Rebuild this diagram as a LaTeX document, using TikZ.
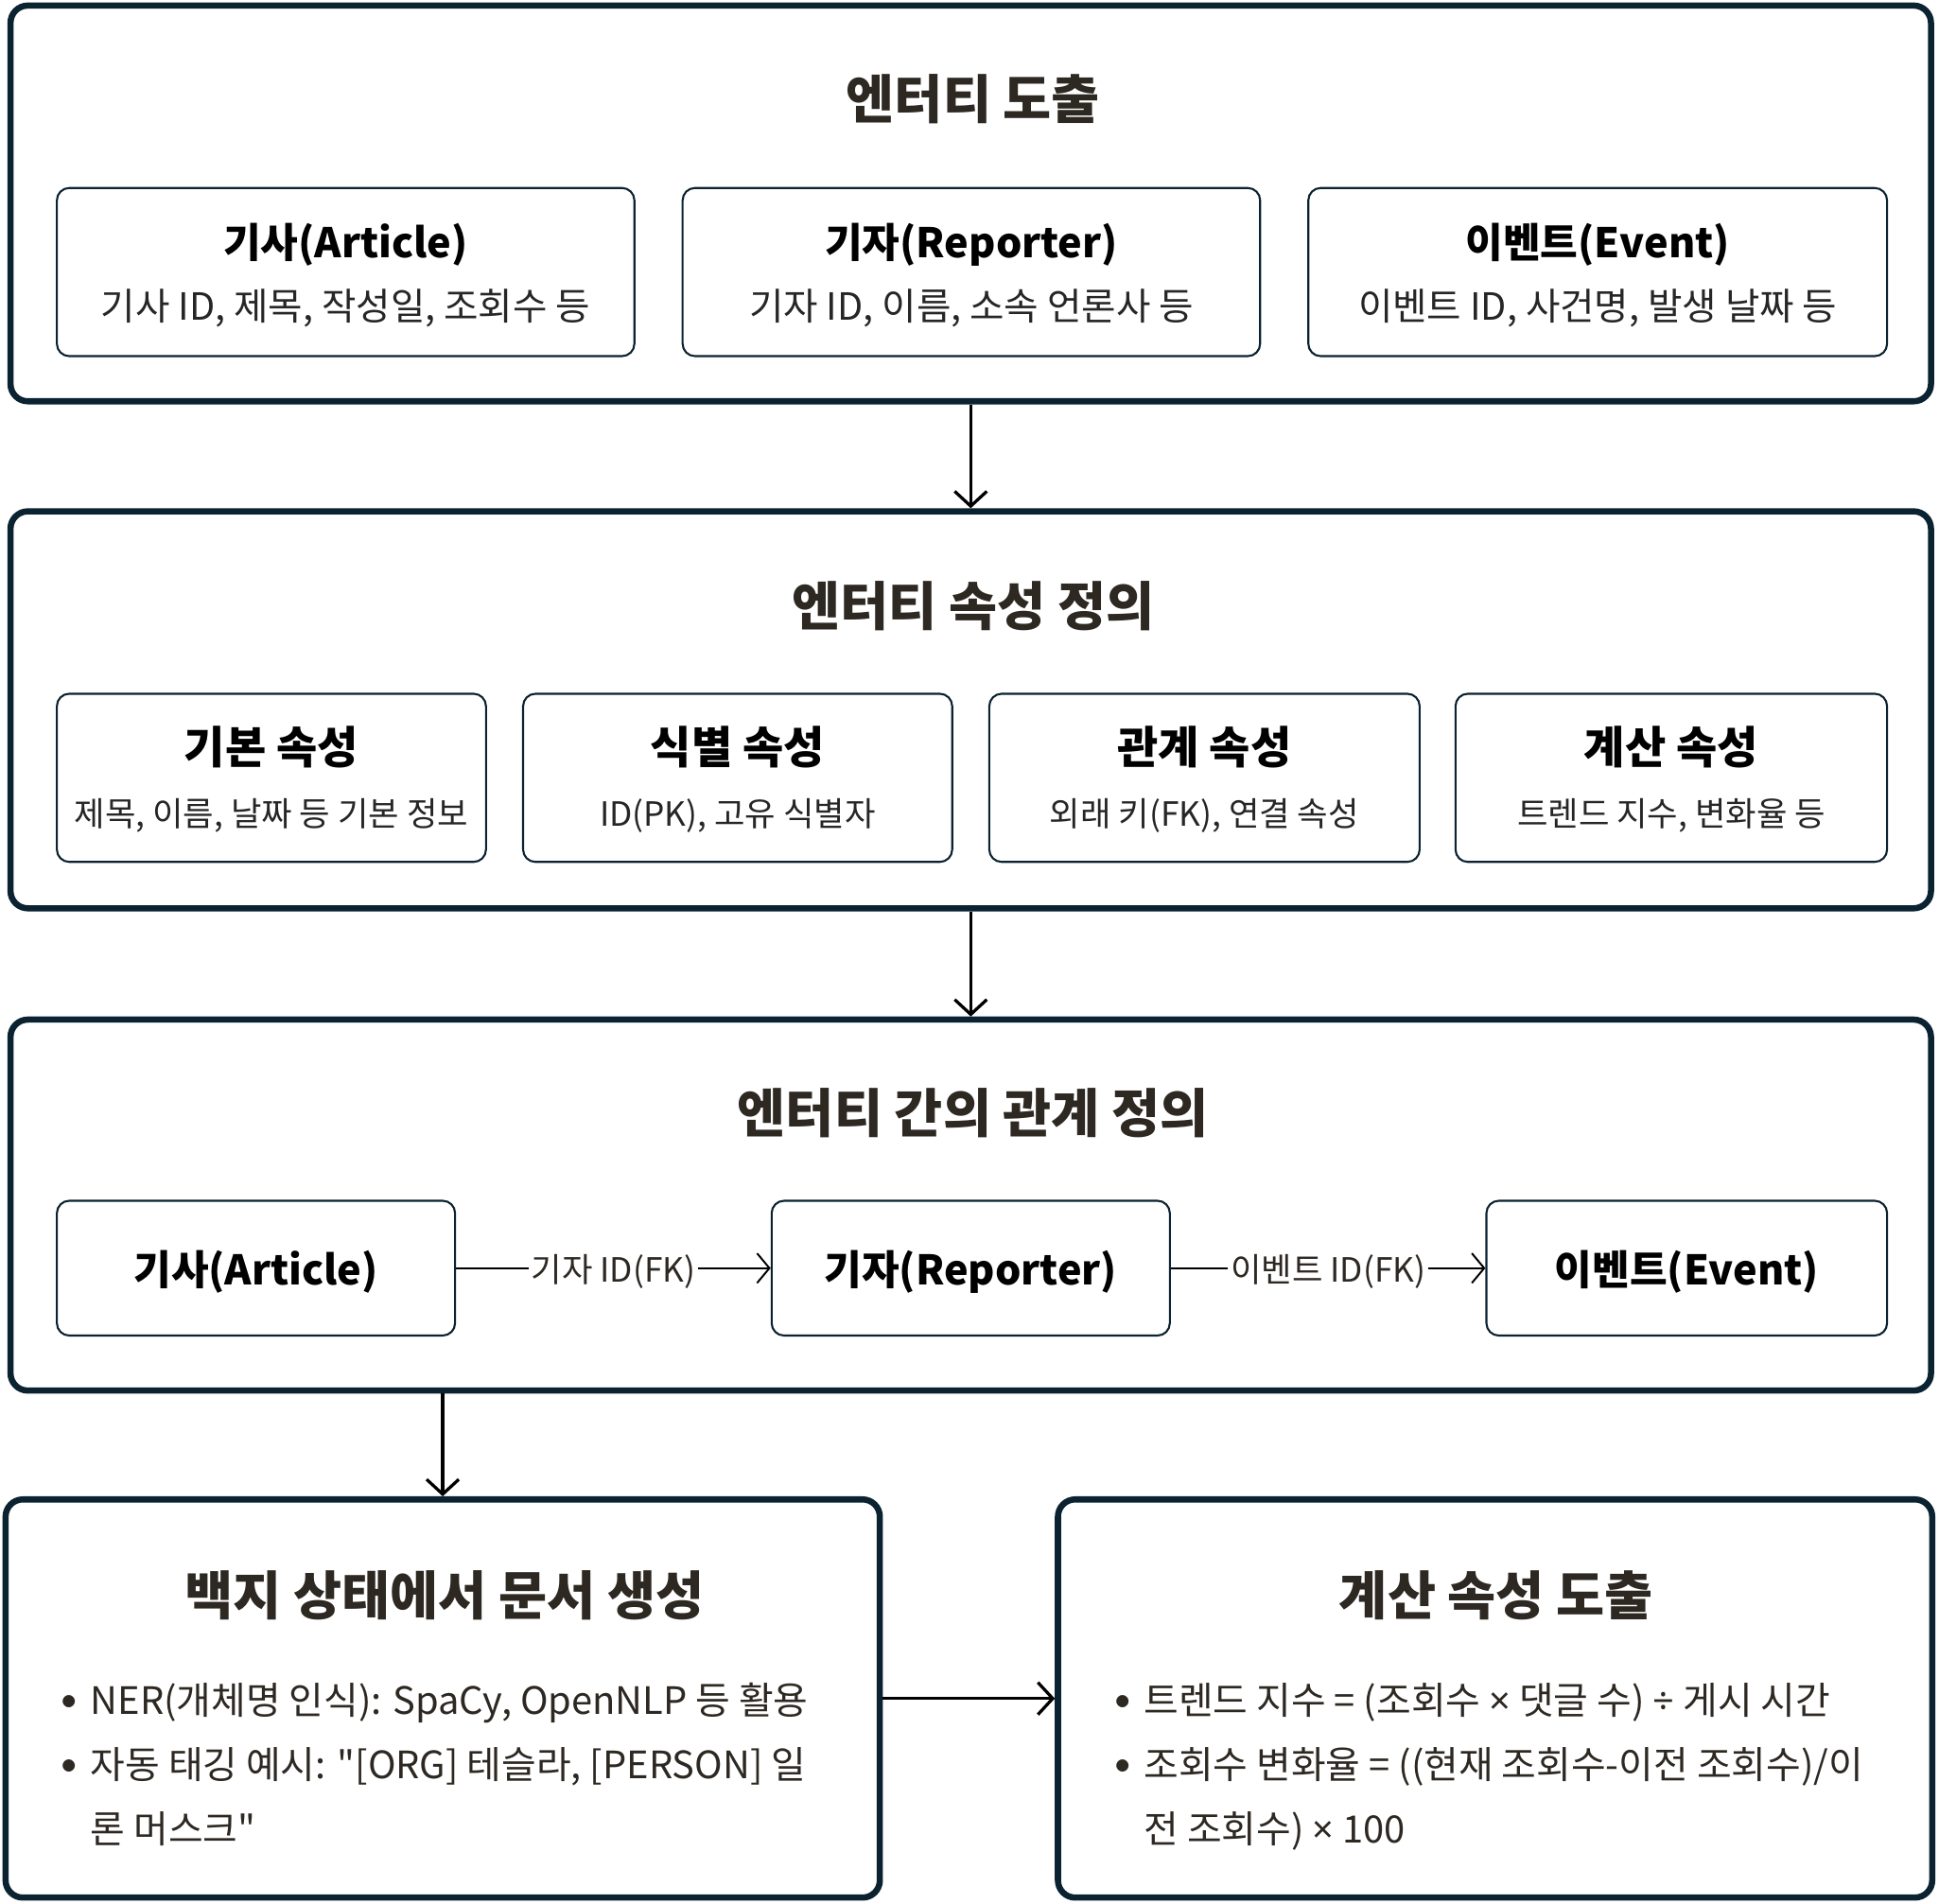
\documentclass[tikz,border=0pt]{standalone}
\usepackage{fontspec}
\setmainfont{Noto Sans CJK KR}[Ligatures=TeXOff]
\newfontfamily\latf{Noto Sans}
\usetikzlibrary{arrows.meta}
\definecolor{navy}{HTML}{0B2231}
\definecolor{ttlc}{HTML}{2D2822}
\definecolor{subc}{HTML}{262626}
\newcommand{\bdot}{\makebox[23pt][l]{\raisebox{6pt}{\fontsize{11}{11}\selectfont ●}}}
\begin{document}
\begin{tikzpicture}[x=1pt,y=-1pt,
  outer/.style={draw=navy, line width=5pt, rounded corners=14pt, inner sep=0pt, fill=white},
  card/.style={draw=navy, line width=1.6pt, rounded corners=10pt, fill=white, inner sep=0pt},
  ctA/.style={anchor=base, inner sep=0pt, text=black, font=\bfseries\fontsize{33}{40}\selectfont},
  ctB/.style={anchor=base, inner sep=0pt, text=black, font=\bfseries\fontsize{36}{40}\selectfont},
  csA/.style={anchor=base, inner sep=0pt, text=subc, font=\fontsize{30.3}{36}\selectfont},
  csB/.style={anchor=base, inner sep=0pt, text=subc, font=\fontsize{27}{32}\selectfont},
  ttl/.style={anchor=base, font=\bfseries\fontsize{42.5}{50}\selectfont, text=ttlc, inner sep=0pt},
  conn/.style={line width=2.5pt, -{Straight Barb[length=12pt,width=26pt]}},
  rel/.style={line width=1.5pt, -{Straight Barb[length=10pt,width=24pt]}},
  elab/.style={fill=white, inner sep=2pt, text=ttlc, font=\fontsize{27}{32}\selectfont},
  bul/.style={anchor=base west, inner sep=0pt, text=ttlc, font=\fontsize{30.5}{52}\selectfont}
]
\useasboundingbox (0,0) rectangle (1568,1539);
\fill[white] (0,0) rectangle (1568,1539);

% Box 1
\node[outer, minimum width=1553pt, minimum height=320pt] (o1) at (785,164.5) {};
\node[ttl] (t1) at (787,95.7) {엔터티 도출};
\node[card, minimum width=467pt, minimum height=136pt] (a1) at (279.5,220) {};
\node[card, minimum width=467pt, minimum height=136pt] (a2) at (785.5,220) {};
\node[card, minimum width=468pt, minimum height=136pt] (a3) at (1292,220) {};
\node[ctA] (a1t) at (279.5,208.2) {기사(Article)};
\node[csA] (a1s) at (279.5,259.2) {기사 ID, 제목, 작성일, 조회수 등};
\node[ctA] (a2t) at (785.5,208.2) {기자(Reporter)};
\node[csA] (a2s) at (785.5,259.2) {기자 ID, 이름, 소속 언론사 등};
\node[ctA] (a3t) at (1292,208.2) {이벤트(Event)};
\node[csA] (a3s) at (1292,259.2) {이벤트 ID, 사건명, 발생 날짜 등};

% Box 2
\node[outer, minimum width=1553pt, minimum height=321pt] (o2) at (785,574) {};
\node[ttl] (t2) at (787,505.7) {엔터티 속성 정의};
\node[card, minimum width=347pt, minimum height=136pt] (b1) at (219.5,629) {};
\node[card, minimum width=347pt, minimum height=136pt] (b2) at (596.5,629) {};
\node[card, minimum width=348pt, minimum height=136pt] (b3) at (974,629) {};
\node[card, minimum width=349pt, minimum height=136pt] (b4) at (1351.5,629) {};
\node[ctB] (b1t) at (219.5,617.3) {기본 속성};
\node[csB] (b1s) at (219.5,668) {제목, 이름, 날짜 등 기본 정보};
\node[ctB] (b2t) at (596.5,617.3) {식별 속성};
\node[csB] (b2s) at (596.5,668) {ID(PK), 고유 식별자};
\node[ctB] (b3t) at (974,617.3) {관계 속성};
\node[csB] (b3s) at (974,668) {외래 키(FK), 연결 속성};
\node[ctB] (b4t) at (1351.5,617.3) {계산 속성};
\node[csB] (b4s) at (1351.5,668) {트렌드 지수, 변화율 등};

% Box 3
\node[outer, minimum width=1553pt, minimum height=300pt] (o3) at (785,974.5) {};
\node[ttl] (t3) at (787,915.7) {엔터티 간의 관계 정의};
\node[card, minimum width=322pt, minimum height=109pt] (c1) at (207,1025.5) {};
\node[card, minimum width=322pt, minimum height=109pt] (c2) at (785,1025.5) {};
\node[card, minimum width=324pt, minimum height=109pt] (c3) at (1364,1025.5) {};
\node[ctA] (c1t) at (207,1039) {기사(Article)};
\node[ctA] (c2t) at (785,1039) {기자(Reporter)};
\node[ctA] (c3t) at (1364,1039) {이벤트(Event)};
\draw[rel] (c1) -- node[elab, yshift=-3pt] {기자 ID(FK)} (c2);
\draw[rel] (c2) -- node[elab, yshift=-3pt] {이벤트 ID(FK)} (c3);

% Box 4
\node[outer, minimum width=707pt, minimum height=322pt] (o4) at (358,1373.5) {};
\node[ttl] (t4) at (359.5,1305.7) {백지 상태에서 문서 생성};
\node[bul] (l41) at (50,1386.5) {\bdot NER(개체명 인식): SpaCy, OpenNLP 등 활용};
\node[bul] (l42) at (50,1438.5) {\bdot 자동 태깅 예시: "[ORG] 테슬라, [PERSON] 일};
\node[bul] (l43) at (73,1490.5) {론 머스크"};

% Box 5
\node[outer, minimum width=707pt, minimum height=322pt] (o5) at (1209,1373.5) {};
\node[ttl] (t5) at (1210,1305.7) {계산 속성 도출};
\node[bul] (l51) at (902,1386.5) {\bdot 트렌드 지수 = (조회수 {\latf ×} 댓글 수) {\latf ÷} 게시 시간};
\node[bul] (l52) at (902,1438.5) {\bdot 조회수 변화율 = ((현재 조회수-이전 조회수)/이};
\node[bul] (l53) at (925,1490.5) {전 조회수) {\latf ×} 100};

% connectors
\draw[conn] (o1.south) -- (o2.north);
\draw[conn] (o2.south) -- (o3.north);
\draw[conn] (o3.south -| o4.north) -- (o4.north);
\draw[conn] (o4.east) -- (o5.west);
\end{tikzpicture}
\end{document}
